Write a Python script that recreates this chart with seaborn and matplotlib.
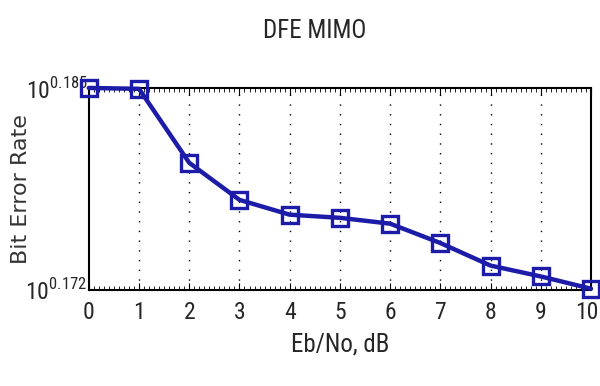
import matplotlib
matplotlib.use("Agg")
import matplotlib.pyplot as plt
import matplotlib.transforms as mtransforms
import seaborn as sns
import pandas as pd
from matplotlib import font_manager
from matplotlib.ticker import FixedLocator, MultipleLocator, NullLocator

# data
ebno_db = [0, 1, 2, 3, 4, 5, 6, 7, 8, 9, 10]
ber = [1.5311, 1.5309, 1.5142, 1.5059, 1.5026, 1.5019, 1.5006, 1.4963, 1.4913, 1.4889, 1.4862]
y_tick_exps = [0.172, 0.185]
x_tick_labels = ["0", "1", "2", "3", "4", "5", "6", "7", "8", "9", "10"]

df = pd.DataFrame({"EbNo": ebno_db, "BER": ber})

# look for a narrow face, the reference uses a condensed one
names = {f.name for f in font_manager.fontManager.ttflist}
stretches = {(f.name, f.stretch) for f in font_manager.fontManager.ttflist}
narrow = "DejaVu Sans"
stretch = "normal"
for cand in ["Liberation Sans Narrow", "Roboto Condensed", "Open Sans Condensed", "Noto Sans Condensed"]:
    if cand in names:
        narrow = cand
        break
else:
    for n, s in stretches:
        if n in ("DejaVu Sans", "Noto Sans", "Open Sans", "Roboto") and s in ("condensed", "semi-condensed", "extra-condensed"):
            narrow, stretch = n, s
            break

sns.set_style("white")
plt.rcParams["font.family"] = [narrow, "DejaVu Sans"]
plt.rcParams["font.stretch"] = stretch
plt.rcParams["mathtext.fontset"] = "custom"
plt.rcParams["mathtext.rm"] = narrow

fig = plt.figure(figsize=(6, 3.86), dpi=100)
ax = fig.add_axes([0.148, 0.249, 0.837, 0.523])

sns.lineplot(data=df, x="EbNo", y="BER", ax=ax, color="#1c1ca8", linewidth=3.2,
             marker="s", markersize=12, markerfacecolor="none",
             markeredgecolor="#1c1ca8", markeredgewidth=2.4, clip_on=False, zorder=5)

ax.set_yscale("log")
ax.set_ylim(10 ** y_tick_exps[0], 10 ** y_tick_exps[1])
ax.set_xlim(0, 10)
ax.yaxis.set_major_locator(FixedLocator([10 ** e for e in y_tick_exps]))
ax.yaxis.set_minor_locator(NullLocator())
ax.set_yticklabels([r"$10^{%g}$" % e for e in y_tick_exps], fontsize=17)

ax.set_xticks(ebno_db)
ax.set_xticklabels(x_tick_labels, fontsize=17)
ax.xaxis.set_minor_locator(MultipleLocator(0.1))
ax.tick_params(axis="x", which="both", direction="in", top=True, bottom=True, color="black", pad=8)
ax.tick_params(axis="x", which="major", length=5)
ax.tick_params(axis="x", which="minor", length=3)
ax.tick_params(axis="y", which="major", direction="in", length=0, pad=1)

# nudge the "10" so it stays inside the figure
last = ax.get_xticklabels()[-1]
last.set_transform(last.get_transform() + mtransforms.ScaledTranslation(-4 / 100, 0, fig.dpi_scale_trans))

for x in ebno_db[1:-1]:
    ax.axvline(x, color="black", linestyle=(0, (1, 6)), linewidth=1, zorder=0)

for s in ax.spines.values():
    s.set_visible(True)
    s.set_color("black")
    s.set_linewidth(1.5)

ax.set_title("DFE MIMO", fontsize=18, pad=36, x=0.45)
ax.set_xlabel("Eb/No, dB", fontsize=18, labelpad=6)
ax.set_ylabel("Bit Error Rate", fontsize=16, family="DejaVu Sans", color="#333333")
ax.yaxis.set_label_coords(-0.115, 0.5)

fig.savefig("out.png", dpi=100)
